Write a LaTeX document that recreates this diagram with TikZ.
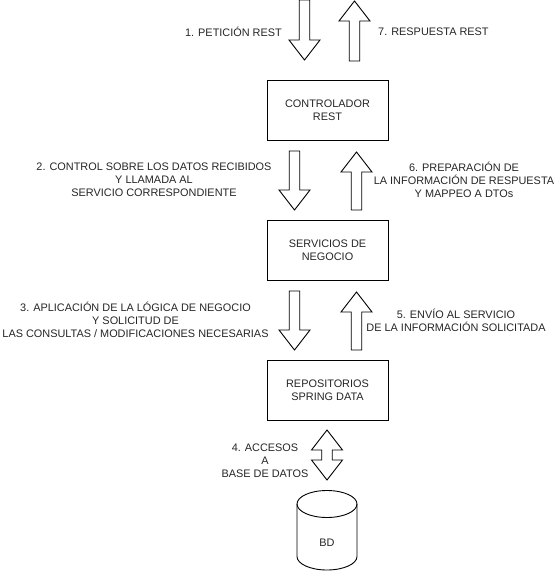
\documentclass[tikz,border=0pt]{standalone}
\usepackage{fontspec}
\setmainfont{Liberation Sans}
\begin{document}
\begin{tikzpicture}[x=1pt,y=-1pt,
  lbl/.style={font=\fontsize{10.9pt}{13pt}\selectfont, align=center, inner sep=0pt, text=black!85},
  layerbox/.style={draw, line width=1pt, minimum width=121pt, minimum height=60pt, inner sep=0pt,
    font=\fontsize{10.9pt}{13pt}\selectfont, align=center, text=black!85},
  blockarr/.style={draw, line width=0.9pt, fill=white, line join=miter}]
\useasboundingbox (0,0) rectangle (558,571);

% block arrow macros: centre x, start y, tip y
\newcommand{\blkdown}[3]{%
  \draw[blockarr] ({#1-5.25},#2) -- ({#1+5.25},#2) -- ({#1+5.25},{#3-20}) -- ({#1+15.5},{#3-20})
    -- (#1,#3) -- ({#1-15.5},{#3-20}) -- ({#1-5.25},{#3-20}) -- cycle;}
\newcommand{\blkup}[3]{%
  \draw[blockarr] ({#1-5.25},#2) -- ({#1+5.25},#2) -- ({#1+5.25},{#3+20}) -- ({#1+15.5},{#3+20})
    -- (#1,#3) -- ({#1-15.5},{#3+20}) -- ({#1-5.25},{#3+20}) -- cycle;}

% boxes
\node[layerbox] (ctrl) at (327.5,110) {CONTROLADOR\\REST};
\node[layerbox] (serv) at (327.5,250) {SERVICIOS DE\\NEGOCIO};
\node[layerbox] (repo) at (327.5,390) {REPOSITORIOS\\SPRING DATA};

% arrows
\blkdown{304.5}{0}{60}
\blkup{354.5}{61}{1}
\blkdown{294.5}{151}{210}
\blkup{356.5}{210}{152}
\blkdown{294.5}{291}{350}
\blkup{356.5}{350}{292}
% double arrow
\draw[blockarr] (327,430) -- (342.5,450) -- (332.25,450) -- (332.25,460) -- (342.5,460) -- (327,480)
  -- (311.5,460) -- (321.75,460) -- (321.75,450) -- (311.5,450) -- cycle;

% database cylinder
\draw[line width=0.9pt, fill=white] (297,504) -- (297,556.5)
  arc[start angle=180, end angle=0, x radius=30, y radius=13.5] -- (357,504);
\draw[line width=0.9pt] (327,504) ellipse [x radius=30, y radius=13.5];
\node[lbl] (bd) at (327,543) {BD};

% labels
\node[lbl, anchor=east] (l1) at (282,31.5) {1. PETICIÓN REST};
\node[lbl, anchor=west] (l7) at (378,31.5) {7. RESPUESTA REST};
\node[lbl] (l2) at (154,180) {2. CONTROL SOBRE LOS DATOS RECIBIDOS\\Y LLAMADA AL\\SERVICIO CORRESPONDIENTE};
\node[lbl] (l6) at (464,180) {6. PREPARACIÓN DE\\LA INFORMACIÓN DE RESPUESTA\\Y MAPPEO A DTOs};
\node[lbl] (l3) at (135.5,320) {3. APLICACIÓN DE LA LÓGICA DE NEGOCIO\\Y SOLICITUD DE\\LAS CONSULTAS / MODIFICACIONES NECESARIAS};
\node[lbl] (l5) at (456,320) {5. ENVÍO AL SERVICIO\\DE LA INFORMACIÓN SOLICITADA};
\node[lbl] (l4) at (265,461) {4. ACCESOS\\A\\BASE DE DATOS};
\end{tikzpicture}
\end{document}
